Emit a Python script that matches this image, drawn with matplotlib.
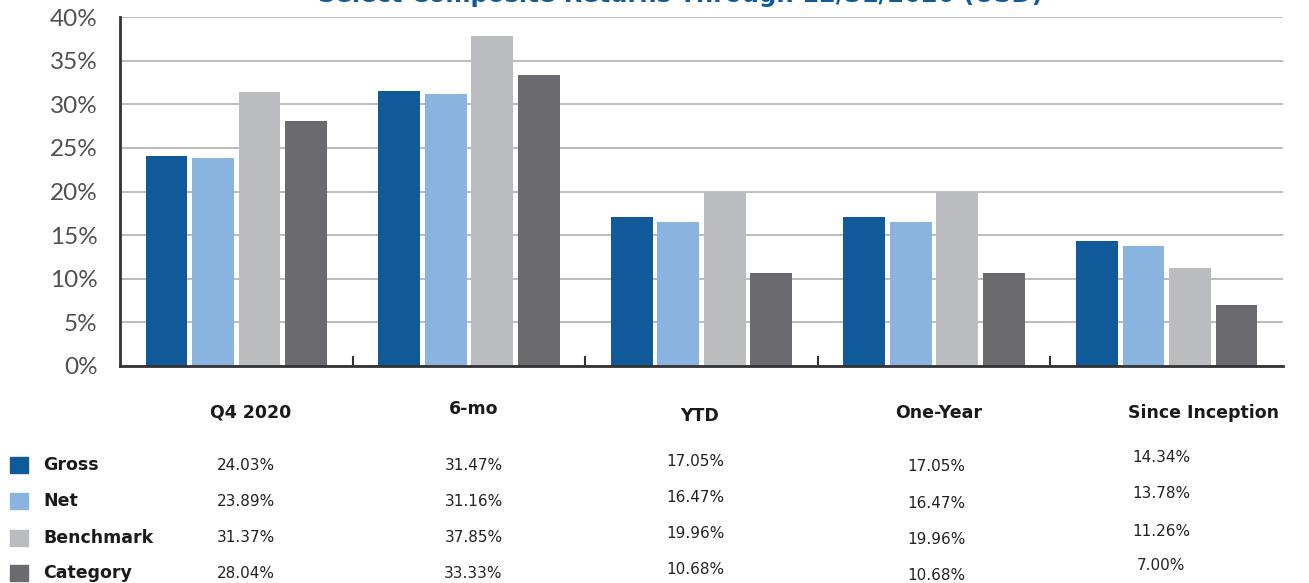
import matplotlib
matplotlib.use("Agg")
import matplotlib.pyplot as plt
from matplotlib.patches import Rectangle
import numpy as np

plt.rcParams['font.family'] = ['Lato', 'DejaVu Sans']

categories = ['Q4 2020', '6-mo', 'YTD', 'One-Year', 'Since Inception']
series = ['Gross', 'Net', 'Benchmark', 'Category']
gross = [24.03, 31.47, 17.05, 17.05, 14.34]
net = [23.89, 31.16, 16.47, 16.47, 13.78]
benchmark = [31.37, 37.85, 19.96, 19.96, 11.26]
category = [28.04, 33.33, 10.68, 10.68, 7.00]
values = [gross, net, benchmark, category]
colors = ['#115a9a', '#8ab4e0', '#bbbcc0', '#6b6b6f']
yticks = [0, 5, 10, 15, 20, 25, 30, 35, 40]

W, H = 1309, 583
fig = plt.figure(figsize=(W / 100, H / 100), dpi=100)
ax = fig.add_axes([120 / W, 1 - 366 / H, 1163 / W, 349 / H])

x = np.arange(len(categories))
for i, (vals, col) in enumerate(zip(values, colors)):
    ax.bar(x + (i - 1.5) * 0.2, vals, width=0.18, color=col, zorder=3)

ax.set_xlim(-0.5, len(categories) - 0.5)
ax.set_ylim(0, 40)
ax.set_yticks(yticks)
ax.set_yticklabels([f'{t}%' for t in yticks], fontsize=17.5, color='#505050')
ax.tick_params(axis='y', length=0, pad=16)
ax.set_xticks(x[:-1] + 0.5)
ax.set_xticklabels([])
ax.tick_params(axis='x', direction='in', length=7, width=1.5, color='#333333')
ax.grid(axis='y', color='#b0b0b0', lw=1.2, zorder=0)
for s in ['top', 'right']:
    ax.spines[s].set_visible(False)
for s in ['left', 'bottom']:
    ax.spines[s].set_color('#333333')
    ax.spines[s].set_linewidth(2)
    ax.spines[s].set_zorder(4)

def fy(py):
    return 1 - py / H

wide = ['DejaVu Sans']

# title, cut off at the top of the picture as in the source
fig.text(680 / W, fy(-5), 'Select Composite Returns Through 12/31/2020 (USD)',
         ha='center', va='center', fontsize=17.5, fontweight='bold',
         color='#115a9a', family=wide)

# category labels under the axis
label_x = [0.06, 1.02, 1.99, 3.02, 4.16]
label_y = [413, 409, 416, 413, 413]
for xi, yi, c in zip(label_x, label_y, categories):
    ax.text(xi, (366 - yi) / 349, c, transform=ax.get_xaxis_transform(),
            ha='center', va='center', fontsize=12.5, fontweight='bold',
            color='#1a1a1a', family=wide)

# table below: legend squares, names, values
row_y = [465, 501, 538, 573]
col_x = [0.04, 1.02, 1.975, 3.01, 3.975]
col_dy = [0, 0, -4, 2, -7]
for r, (name, col, vals) in enumerate(zip(series, colors, values)):
    fig.patches.append(Rectangle((10 / W, fy(row_y[r] + 8)), 18 / W, 16 / H,
                                 transform=fig.transFigure, color=col))
    fig.text(43 / W, fy(row_y[r]), name, ha='left', va='center',
             fontsize=12.5, fontweight='bold', color='#1a1a1a', family=wide)
    for cx, dy, v in zip(col_x, col_dy, vals):
        ax.text(cx, (366 - row_y[r] - dy) / 349, f'{v:.2f}%',
                transform=ax.get_xaxis_transform(), ha='center', va='center',
                fontsize=11, color='#222222', family=wide)

fig.savefig('out.png', dpi=100)
